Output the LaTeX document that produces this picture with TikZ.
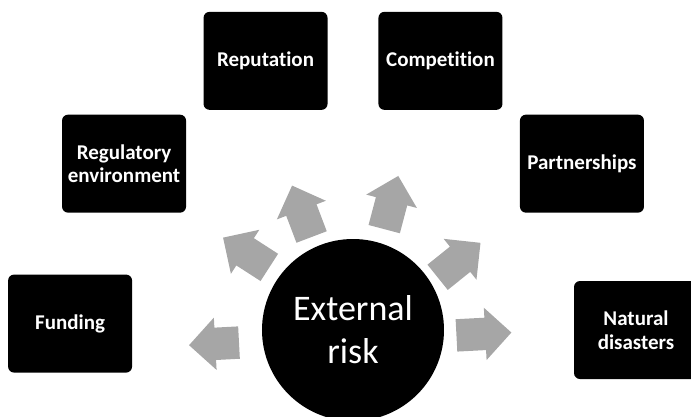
\documentclass[tikz,border=0pt]{standalone}
\usepackage{fontspec}
\setmainfont[Ligatures=NoCommon]{Carlito}
\usetikzlibrary{shapes.arrows}
\definecolor{riskgray}{HTML}{A6A6A6}
\begin{document}
\begin{tikzpicture}[x=1pt,y=1pt,
	riskbox/.style={fill=black,rounded corners=6pt,minimum width=124pt,minimum height=98pt,
		text=white,align=center,font=\fontsize{21}{23.5}\selectfont\bfseries},
	riskarrow/.style={single arrow,fill=riskgray,minimum height=55pt,minimum width=52pt,
		single arrow head extend=10pt,inner xsep=0pt,inner ysep=16pt,anchor=tail}]
			\useasboundingbox (-353,-86) rectangle (338,330);
			\node (Er) at (0,0) [circle,fill=black,minimum size=182pt,text=white,align=center,
				font=\fontsize{36}{43}\selectfont] {External\\risk};
			\node (Na) at (0:283) [riskbox] {Natural\\disasters};
			\node (Pa) at (36:283) [riskbox] {Partnerships};
			\node (Co) at (72:283) [riskbox] {Competition};
			\node (Rp) at (108:283) [riskbox] {Reputation};
			\node (Rg) at (144:283) [riskbox] {Regulatory\\environment};
			\node (Fu) at (178.7:283) [riskbox] {Funding};
			\node (aNa) at (-3:103.4) [riskarrow,rotate=3] {};
			\node (aPa) at (31.9:99.5) [riskarrow,rotate=38.8] {};
			\node (aCo) at (72.8:105.4) [riskarrow,rotate=75.2] {};
			\node (aRp) at (114:101.6) [riskarrow,rotate=110.8] {};
			\node (aRg) at (143.2:104.3) [riskarrow,rotate=147.2] {};
			\node (aFu) at (186.3:114.5) [riskarrow,rotate=183,minimum height=50pt] {};
		\end{tikzpicture}
\end{document}
